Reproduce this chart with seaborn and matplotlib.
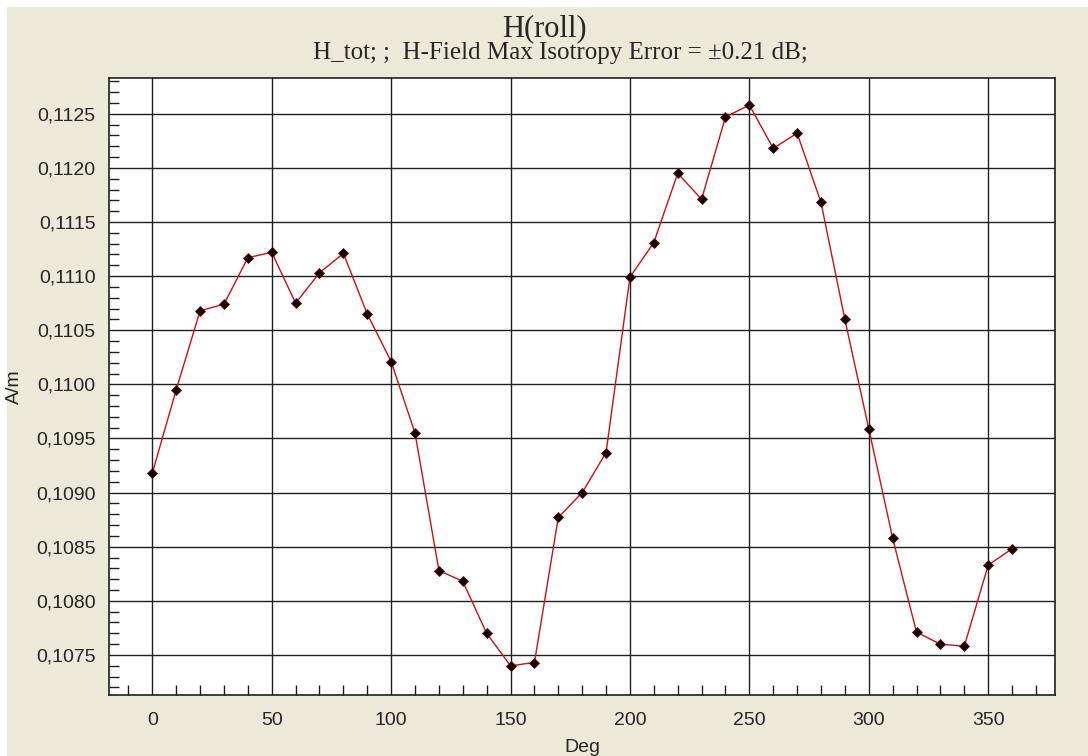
import matplotlib
matplotlib.use("Agg")
import matplotlib.pyplot as plt
import matplotlib.ticker as mticker
from matplotlib.patches import Rectangle
import numpy as np
import pandas as pd
import seaborn as sns

# ----------------------------
# Data
# ----------------------------
DEG = [0, 10, 20, 30, 40, 50, 60, 70, 80, 90,
       100, 110, 120, 130, 140, 150, 160, 170, 180, 190,
       200, 210, 220, 230, 240, 250, 260, 270, 280, 290,
       300, 310, 320, 330, 340, 350, 360]
H_TOT = [0.10918, 0.10995, 0.11068, 0.11074, 0.11117, 0.11122, 0.11075, 0.11103, 0.11121, 0.11065,
         0.11021, 0.10955, 0.10828, 0.10818, 0.10770, 0.10740, 0.10743, 0.10877, 0.10900, 0.10937,
         0.11099, 0.11131, 0.11195, 0.11171, 0.11247, 0.11258, 0.11218, 0.11232, 0.11168, 0.11060,
         0.10959, 0.10858, 0.10771, 0.10760, 0.10758, 0.10833, 0.10848]

X_TICKS = [0, 50, 100, 150, 200, 250, 300, 350]
Y_TICKS = [0.1075, 0.1080, 0.1085, 0.1090, 0.1095, 0.1100, 0.1105, 0.1110, 0.1115, 0.1120, 0.1125]

TITLE = "H(roll)"
SUBTITLE = "H_tot; ;  H-Field Max Isotropy Error = \u00b10.21 dB;"

BG = "#EBE9D8"
LINE_RED = "#CC1010"

sns.set_style("white")
plt.rcParams["font.family"] = ["Liberation Sans", "DejaVu Sans"]

df = pd.DataFrame({"Deg": DEG, "A/m": H_TOT})

fig = plt.figure(figsize=(10.88, 7.56), dpi=100, facecolor="white")
fig.patches.append(Rectangle((7 / 1088, 0), 1, 1 - 7 / 756, transform=fig.transFigure,
                             facecolor=BG, edgecolor="none", zorder=-10))
ax = fig.add_axes([0.1005, 0.0807, 0.8692, 0.8161])
ax.set_facecolor("white")

sns.lineplot(data=df, x="Deg", y="A/m", ax=ax, color=LINE_RED, linewidth=1.0,
             marker="D", markersize=5, markerfacecolor="black",
             markeredgecolor="#800000", markeredgewidth=0.6, zorder=3)

ax.set_xlim(-18, 378)
ax.set_ylim(0.10713, 0.11283)
ax.set_xticks(X_TICKS)
ax.set_yticks(Y_TICKS)
ax.xaxis.set_minor_locator(mticker.MultipleLocator(10))
ax.yaxis.set_minor_locator(mticker.MultipleLocator(0.0001))
ax.yaxis.set_major_formatter(mticker.FuncFormatter(lambda v, p: f"{v:.4f}".replace(".", ",")))

ax.grid(True, which="major", color="#202020", linewidth=1.0, zorder=1)
ax.set_axisbelow(True)
ax.tick_params(axis="both", which="major", direction="out", length=8, width=1,
               color="#202020", labelsize=14, pad=2)
ax.tick_params(axis="x", which="major", pad=4)
ax.tick_params(axis="both", which="minor", direction="in", length=7, width=1,
               color="#202020", bottom=True, left=True)
for side in ax.spines.values():
    side.set_color("#202020")
    side.set_linewidth(1.2)

ax.set_xlabel("Deg", fontsize=14)
ax.set_ylabel("A/m", fontsize=14)
ax.xaxis.set_label_coords(0.5, -0.071)
ax.yaxis.set_label_coords(-0.091, 0.5)

fig.text(0.5, 0.962, TITLE, ha="center", va="center", fontsize=22, family="Liberation Serif")
fig.text(313 / 1088, 0.930, SUBTITLE, ha="left", va="center", fontsize=18, family="Liberation Serif")

fig.savefig("out.png", dpi=100, facecolor=fig.get_facecolor())
